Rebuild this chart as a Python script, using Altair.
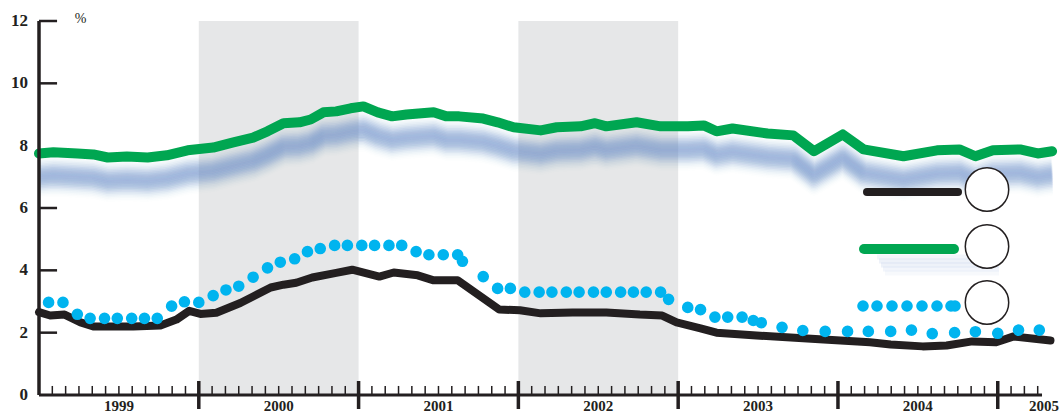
import math
import altair as alt
import pandas as pd

# ---------------- data (decimal years, percent) ----------------
black_x = [1999.00, 1999.07, 1999.16, 1999.26, 1999.34, 1999.44, 1999.59, 1999.76, 1999.86, 1999.94,
           2000.01, 2000.11, 2000.26, 2000.34, 2000.45, 2000.53, 2000.61, 2000.71, 2000.86, 2000.96,
           2001.13, 2001.22, 2001.37, 2001.47, 2001.62, 2001.88, 2002.01, 2002.14, 2002.34, 2002.55,
           2002.76, 2002.90, 2002.99, 2003.14, 2003.24, 2003.49, 2003.91, 2004.20, 2004.33, 2004.53,
           2004.68, 2004.84, 2004.99, 2005.10, 2005.33]
black_y = [2.66, 2.55, 2.58, 2.33, 2.20, 2.20, 2.20, 2.23, 2.42, 2.70,
           2.60, 2.64, 2.95, 3.16, 3.45, 3.54, 3.60, 3.77, 3.92, 4.02,
           3.80, 3.93, 3.84, 3.68, 3.68, 2.74, 2.72, 2.62, 2.65, 2.65,
           2.58, 2.55, 2.33, 2.14, 2.00, 1.91, 1.78, 1.69, 1.62, 1.56,
           1.59, 1.72, 1.69, 1.88, 1.75]

green_x = [1999.00, 1999.09, 1999.24, 1999.34, 1999.43, 1999.55, 1999.68, 1999.80, 1999.93,
           2000.09, 2000.21, 2000.34, 2000.43, 2000.53, 2000.63, 2000.70, 2000.78, 2000.86, 2000.95,
           2001.03, 2001.12, 2001.21, 2001.30, 2001.47, 2001.55, 2001.63, 2001.78, 2001.87, 2001.97,
           2002.14, 2002.24, 2002.39, 2002.48, 2002.55, 2002.74, 2002.89,
           2003.06, 2003.16, 2003.24, 2003.34, 2003.56, 2003.72, 2003.85,
           2004.03, 2004.16, 2004.41, 2004.62, 2004.76, 2004.86, 2004.97,
           2005.14, 2005.25, 2005.34]
green_y = [7.75, 7.79, 7.75, 7.72, 7.62, 7.65, 7.62, 7.69, 7.85,
           7.94, 8.10, 8.26, 8.46, 8.72, 8.75, 8.84, 9.07, 9.10, 9.20,
           9.26, 9.07, 8.94, 9.00, 9.07, 8.94, 8.94, 8.87, 8.75, 8.59,
           8.49, 8.59, 8.62, 8.72, 8.62, 8.75, 8.62,
           8.62, 8.65, 8.46, 8.55, 8.39, 8.33, 7.82,
           8.36, 7.88, 7.66, 7.85, 7.88, 7.66, 7.85,
           7.88, 7.75, 7.82]

blue_x = [1999.06, 1999.15, 1999.24, 1999.32, 1999.41, 1999.49, 1999.58, 1999.66, 1999.74, 1999.83, 1999.91,
          2000.00, 2000.09, 2000.17, 2000.25, 2000.34, 2000.43, 2000.51, 2000.60, 2000.68, 2000.76, 2000.85, 2000.93,
          2001.02, 2001.10, 2001.19, 2001.27, 2001.36, 2001.44, 2001.53, 2001.62, 2001.65, 2001.78, 2001.87, 2001.95,
          2002.04, 2002.13, 2002.21, 2002.30, 2002.38, 2002.47, 2002.55, 2002.64, 2002.72, 2002.80, 2002.89, 2002.94,
          2003.06, 2003.14, 2003.23, 2003.31, 2003.40, 2003.47, 2003.52, 2003.65, 2003.78, 2003.92,
          2004.06, 2004.19, 2004.33, 2004.46, 2004.59, 2004.73, 2004.86,
          2005.00, 2005.13, 2005.26]
blue_y = [2.97, 2.97, 2.59, 2.46, 2.46, 2.46, 2.46, 2.46, 2.46, 2.85, 2.99,
          2.97, 3.19, 3.37, 3.49, 3.78, 4.08, 4.26, 4.37, 4.60, 4.70, 4.80, 4.80,
          4.80, 4.80, 4.80, 4.80, 4.60, 4.50, 4.50, 4.50, 4.29, 3.80, 3.42, 3.42,
          3.30, 3.30, 3.30, 3.30, 3.30, 3.30, 3.30, 3.30, 3.30, 3.30, 3.30, 3.07,
          2.81, 2.74, 2.50, 2.50, 2.50, 2.39, 2.32, 2.17, 2.07, 2.04,
          2.04, 2.04, 2.04, 2.08, 1.97, 2.00, 2.03,
          1.98, 2.08, 2.08]

shade_start = [2000, 2002]
shade_end = [2001, 2003]

y_label_values = [0, 2, 4, 6, 8, 10, 12]
y_label_text = ["0", "2", "4", "6", "8", "10", "12"]
y_tick_values = [2, 4, 6, 10, 12]

year_labels = ["1999", "2000", "2001", "2002", "2003", "2004", "2005"]
year_label_pos = [1999.5, 2000.5, 2001.5, 2002.5, 2003.5, 2004.5, 2005.29]
year_ticks = [2000, 2001, 2002, 2003, 2004, 2005]
month_ticks = [1999 + k / 12 for k in range(1, 76) if k % 12]

# ---------------- styling ----------------
W, H = 1015, 374
INK = "#231f20"
GREEN = "#00a651"
BLUE = "#00b4ef"
GLOW = "#5b84c6"
SHADE = "#e6e7e8"
SERIF = "Liberation Serif"

XS = alt.Scale(domain=[1999, 2005.352], nice=False, zero=False)
YS = alt.Scale(domain=[0, 12], nice=False, zero=False)


def xq(f):
    return alt.X(f, type="quantitative", scale=XS, axis=None)


def yq(f):
    return alt.Y(f, type="quantitative", scale=YS, axis=None)


green_df = pd.DataFrame({"x": green_x, "y": green_y})
black_df = pd.DataFrame({"x": black_x, "y": black_y})
blue_df = pd.DataFrame({"x": blue_x, "y": blue_y})
one = pd.DataFrame({"a": [0]})

layers = []

# shaded years
shade_df = pd.DataFrame({"s": shade_start, "e": shade_end, "lo": [0, 0], "hi": [12, 12]})
layers.append(alt.Chart(shade_df).mark_rect(color=SHADE).encode(
    x=xq("s"), x2=alt.X2("e"), y=yq("lo"), y2=alt.Y2("hi")))

# soft blue glow under green line (many wide faint strokes, gaussian weights)
n_glow = 19
for i in range(n_glow):
    d = 0.30 + i * 0.05
    a = 0.1 * math.exp(-((d - 0.75) / 0.3) ** 2)
    layers.append(alt.Chart(green_df).transform_calculate(g=f"datum.y - {d:.3f}").mark_line(
        color=GLOW, strokeWidth=14, opacity=round(a, 3), strokeJoin="round").encode(
        x=xq("x"), y=yq("g")))

# series
layers.append(alt.Chart(green_df).mark_line(
    color=GREEN, strokeWidth=10, strokeCap="round", strokeJoin="round").encode(x=xq("x"), y=yq("y")))
layers.append(alt.Chart(black_df).mark_line(
    color=INK, strokeWidth=8, strokeCap="round", strokeJoin="round").encode(x=xq("x"), y=yq("y")))
layers.append(alt.Chart(blue_df).mark_circle(
    color=BLUE, size=135, opacity=1).encode(x=xq("x"), y=yq("y")))

# axes drawn by hand
yaxis_df = pd.DataFrame({"x": [1999], "lo": [0], "hi": [12]})
layers.append(alt.Chart(yaxis_df).mark_rule(color=INK, strokeWidth=3.5).encode(
    x=xq("x"), y=yq("lo"), y2=alt.Y2("hi")))
ytick_df = pd.DataFrame({"y": y_tick_values, "x0": 1999, "x1": 1999.113})
layers.append(alt.Chart(ytick_df).mark_rule(color=INK, strokeWidth=2.5).encode(
    x=xq("x0"), x2=alt.X2("x1"), y=yq("y")))
xaxis_df = pd.DataFrame({"x0": [1999], "x1": [2005.277], "y": [0]})
layers.append(alt.Chart(xaxis_df).mark_rule(color=INK, strokeWidth=3).encode(
    x=xq("x0"), x2=alt.X2("x1"), y=yq("y")))
mt_df = pd.DataFrame({"x": month_ticks, "lo": 0, "hi": 0.29})
layers.append(alt.Chart(mt_df).mark_rule(color=INK, strokeWidth=1.5).encode(
    x=xq("x"), y=yq("lo"), y2=alt.Y2("hi")))
yt_df = pd.DataFrame({"x": year_ticks, "lo": -0.45, "hi": 0.45})
layers.append(alt.Chart(yt_df).mark_rule(color=INK, strokeWidth=3.5).encode(
    x=xq("x"), y=yq("lo"), y2=alt.Y2("hi")))

# labels
yl_df = pd.DataFrame({"y": y_label_values, "x": 1999, "t": y_label_text})
layers.append(alt.Chart(yl_df).mark_text(
    align="right", baseline="middle", dx=-11, font=SERIF, fontWeight="bold", fontSize=17, color=INK).encode(
    x=xq("x"), y=yq("y"), text="t:N"))
xl_df = pd.DataFrame({"x": year_label_pos, "y": 0, "t": year_labels})
layers.append(alt.Chart(xl_df).mark_text(
    align="center", baseline="middle", dy=11, font=SERIF, fontWeight="bold", fontSize=15, color=INK).encode(
    x=xq("x"), y=yq("y"), text="t:N"))
pct_df = pd.DataFrame({"x": [1999.26], "y": [12], "t": ["%"]})
layers.append(alt.Chart(pct_df).mark_text(
    align="center", baseline="middle", dy=-2, font=SERIF, fontSize=14, color=INK).encode(
    x=xq("x"), y=yq("y"), text="t:N"))

# legend (pixel positions inside plot area)
for k, (yy, a) in enumerate([(236, 0.08), (240, 0.1), (244, 0.1), (248, 0.08), (252, 0.05)]):
    layers.append(alt.Chart(one).mark_rule(color=GLOW, strokeWidth=5, opacity=a).encode(
        x=alt.value(838 + 2 * k), x2=alt.value(960), y=alt.value(yy)))
layers.append(alt.Chart(one).mark_rule(color=INK, strokeWidth=8, strokeCap="round").encode(
    x=alt.value(828), x2=alt.value(919), y=alt.value(171)))
layers.append(alt.Chart(one).mark_rule(color=GREEN, strokeWidth=10, strokeCap="round").encode(
    x=alt.value(825), x2=alt.value(915), y=alt.value(228)))
for px in [824, 838, 853, 868, 883, 898, 912, 916]:
    layers.append(alt.Chart(one).mark_circle(color=BLUE, size=135, opacity=1).encode(
        x=alt.value(px), y=alt.value(285)))
for py in [168.5, 225.5, 281.5]:
    layers.append(alt.Chart(one).mark_point(
        shape="circle", filled=True, fill="white", stroke=INK, strokeWidth=1.5, opacity=1, size=1886).encode(
        x=alt.value(948), y=alt.value(py)))

chart = alt.layer(*layers).properties(
    width=W, height=H,
    padding={"left": 39, "top": 21, "right": 7, "bottom": 20},
    autosize=alt.AutoSizeParams(type="none"),
).configure_view(stroke=None)

chart.save("out.html", embed_options={"renderer": "svg", "actions": False})
